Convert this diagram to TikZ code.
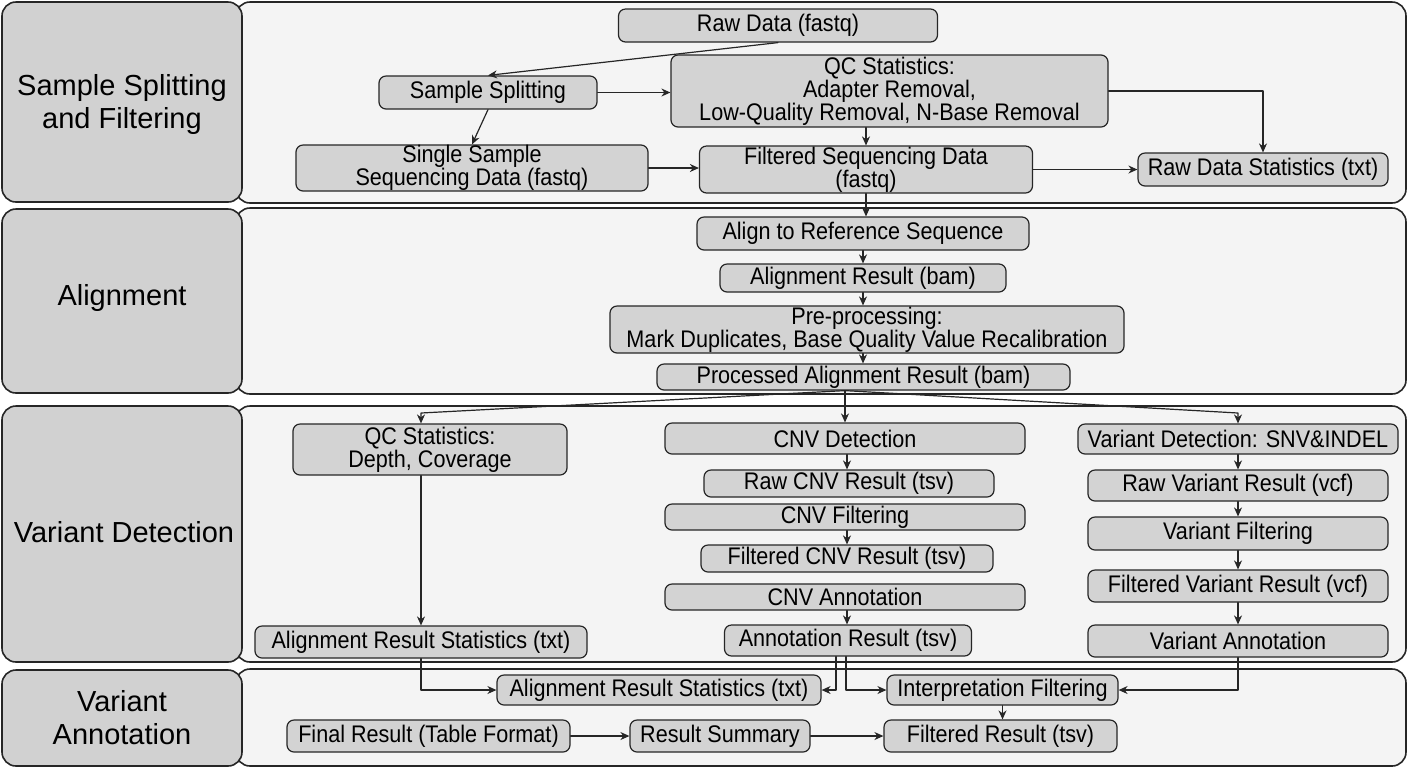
\documentclass[tikz,border=0pt]{standalone}
\usepackage{fontspec}
\setmainfont{Liberation Sans}
\newfontfamily\boxfont[FakeStretch=0.9]{Liberation Sans}
\usetikzlibrary{arrows.meta}
\definecolor{panelfill}{HTML}{F4F4F4}
\definecolor{stagefill}{HTML}{D1D1D1}
\definecolor{boxfill}{HTML}{D3D3D3}
\definecolor{edge}{HTML}{262626}

\begin{document}
\begin{tikzpicture}[x=0.5pt,y=-0.5pt,line cap=round,line join=round,
  panel/.style={draw=edge,fill=panelfill,line width=0.8pt,rounded corners=7pt},
  stage/.style={draw=edge,fill=stagefill,line width=0.8pt,rounded corners=7pt},
  stagetext/.style={font=\fontsize{14.5}{16.5}\selectfont,align=center},
  box/.style={draw=edge,fill=boxfill,line width=0.6pt,rounded corners=3.5pt,
    inner sep=0pt,align=center,font=\boxfont\fontsize{12}{11.5}\selectfont},
  flow/.style={draw=edge,line width=0.6pt,-{Stealth[length=4.5pt,width=4pt]}}]
  \useasboundingbox (0,0) rectangle (1408,768);

  % panels and stage labels
  \draw[panel] (236,2) rectangle (1406,203);
  \draw[panel] (236,208) rectangle (1406,394);
  \draw[panel] (236,406) rectangle (1406,662);
  \draw[panel] (236,669) rectangle (1406,766);
  \draw[stage] (2,2) rectangle (242,202);
  \draw[stage] (2,209) rectangle (242,393);
  \draw[stage] (2,406) rectangle (242,662);
  \draw[stage] (2,670) rectangle (242,766);
  \node[stagetext] (s1) at (122,104) {Sample Splitting\\and Filtering};
  \node[stagetext] (s2) at (122,298) {Alignment};
  \node[stagetext] (s3) at (124,532) {Variant Detection};
  \node[stagetext] (s4) at (122,718) {Variant\\Annotation};

  % sample splitting and filtering
  \node[box,minimum width=159.5pt,minimum height=16.5pt] (raw) at (778,25.5) {Raw Data (fastq)};
  \node[box,minimum width=109pt,minimum height=16.5pt] (split) at (488,92.5) {Sample Splitting};
  \node[box,minimum width=218.5pt,minimum height=36pt] (qc1) at (889.5,91)
    {QC Statistics:\\Adapter Removal,\\Low-Quality Removal, N-Base Removal};
  \node[box,minimum width=176pt,minimum height=23pt] (single) at (472,168)
    {Single Sample\\Sequencing Data (fastq)};
  \node[box,minimum width=166.5pt,minimum height=23.5pt] (filt) at (866,169.5)
    {Filtered Sequencing Data\\(fastq)};
  \node[box,minimum width=125pt,minimum height=16.5pt] (rawstat) at (1263,169.5) {Raw Data Statistics (txt)};

  \draw[flow] (raw.south) -- (split.north);
  \draw[flow] (split.east) -- (split.east -| qc1.west);
  \draw[flow] (split.south) -- (single.north);
  \draw[flow] (qc1.south -| filt.north) -- (filt.north);
  \draw[flow] (qc1.east) -| (rawstat.north);
  \draw[flow] (single.east) -- (single.east -| filt.west);
  \draw[flow] (filt.east) -- (rawstat.west);

  % alignment
  \node[box,minimum width=166pt,minimum height=16.5pt] (align) at (863,233.5) {Align to Reference Sequence};
  \node[box,minimum width=143pt,minimum height=14pt] (alnres) at (863,278) {Alignment Result (bam)};
  \node[box,minimum width=257pt,minimum height=23.5pt] (preproc) at (867,329.5)
    {Pre-processing:\\Mark Duplicates, Base Quality Value Recalibration};
  \node[box,minimum width=206.5pt,minimum height=13pt] (procaln) at (863.5,377) {Processed Alignment Result (bam)};

  \draw[flow] (filt.south) -- (filt.south |- align.north);
  \draw[flow] (align.south) -- (align.south |- alnres.north);
  \draw[flow] (alnres.south) -- (alnres.south |- preproc.north);
  \draw[flow] (preproc.south -| alnres.south) -- (procaln.north -| alnres.south);

  % variant detection
  \node[box,minimum width=137pt,minimum height=25.5pt] (qc2) at (430,449.5) {QC Statistics:\\Depth, Coverage};
  \node[box,minimum width=166pt,minimum height=16pt] (alnstat) at (421,642) {Alignment Result Statistics (txt)};

  \node[box,minimum width=180pt,minimum height=15.5pt] (cnvdet) at (845,438.5) {CNV Detection};
  \node[box,minimum width=145pt,minimum height=13.5pt] (rawcnv) at (849,483.5) {Raw CNV Result (tsv)};
  \node[box,minimum width=180pt,minimum height=13pt] (cnvfilt) at (845,517) {CNV Filtering};
  \node[box,minimum width=146pt,minimum height=13.5pt] (filtcnv) at (847,558.5) {Filtered CNV Result (tsv)};
  \node[box,minimum width=180pt,minimum height=13pt] (cnvann) at (845,597) {CNV Annotation};
  \node[box,minimum width=123.5pt,minimum height=15.5pt] (annres) at (848,640.5) {Annotation Result (tsv)};

  \node[box,minimum width=160pt,minimum height=15pt] (vd) at (1238,439) {Variant Detection: SNV\&INDEL};
  \node[box,minimum width=150pt,minimum height=15.5pt] (rawvar) at (1238,485.5) {Raw Variant Result (vcf)};
  \node[box,minimum width=150pt,minimum height=16.5pt] (varfilt) at (1238,533.5) {Variant Filtering};
  \node[box,minimum width=150pt,minimum height=16pt] (filtvar) at (1238,586) {Filtered Variant Result (vcf)};
  \node[box,minimum width=150pt,minimum height=16pt] (varann) at (1238,641) {Variant Annotation};

  \coordinate (fan) at (procaln.south -| cnvdet.north);
  \coordinate (qcin) at (421,413);
  \coordinate (vdin) at (1238,413);
  \draw[flow] (fan) -- (cnvdet.north);
  \draw[flow] (fan) -- (qcin) -- (qcin |- qc2.north);
  \draw[flow] (fan) -- (vdin) -- (vd.north);
  \draw[flow] (qc2.south -| alnstat.north) -- (alnstat.north);

  \draw[flow] ([xshift=1pt]cnvdet.south) -- ([xshift=1pt]cnvdet.south |- rawcnv.north);
  \draw[flow] ([xshift=1pt]cnvfilt.south) -- ([xshift=1pt]cnvfilt.south |- filtcnv.north);
  \draw[flow] ([xshift=1pt]cnvann.south) -- ([xshift=1pt]cnvann.south |- annres.north);

  \draw[flow] (vd.south) -- (rawvar.north);
  \draw[flow] (rawvar.south) -- (varfilt.north);
  \draw[flow] (varfilt.south) -- (filtvar.north);
  \draw[flow] (filtvar.south) -- (varann.north);

  % variant annotation
  \node[box,minimum width=162pt,minimum height=15pt] (alnstat2) at (659,690) {Alignment Result Statistics (txt)};
  \node[box,minimum width=115.5pt,minimum height=15pt] (interp) at (1002.5,690) {Interpretation Filtering};
  \node[box,minimum width=141.5pt,minimum height=16pt] (final) at (428.5,736) {Final Result (Table Format)};
  \node[box,minimum width=90pt,minimum height=16pt] (summary) at (720,736) {Result Summary};
  \node[box,minimum width=116.5pt,minimum height=16pt] (filtres) at (1000.5,736) {Filtered Result (tsv)};

  \draw[flow] (alnstat.south) |- (alnstat2.west);
  \draw[flow] ([xshift=-6pt]annres.south) |- (alnstat2.east);
  \draw[flow] ([xshift=-1pt]annres.south) |- (interp.west);
  \draw[flow] (varann.south) |- (interp.east);
  \draw[flow] (interp.south) -- (interp.south |- filtres.north);
  \draw[flow] (final) -- (summary);
  \draw[flow] (summary) -- (filtres);
\end{tikzpicture}
\end{document}
